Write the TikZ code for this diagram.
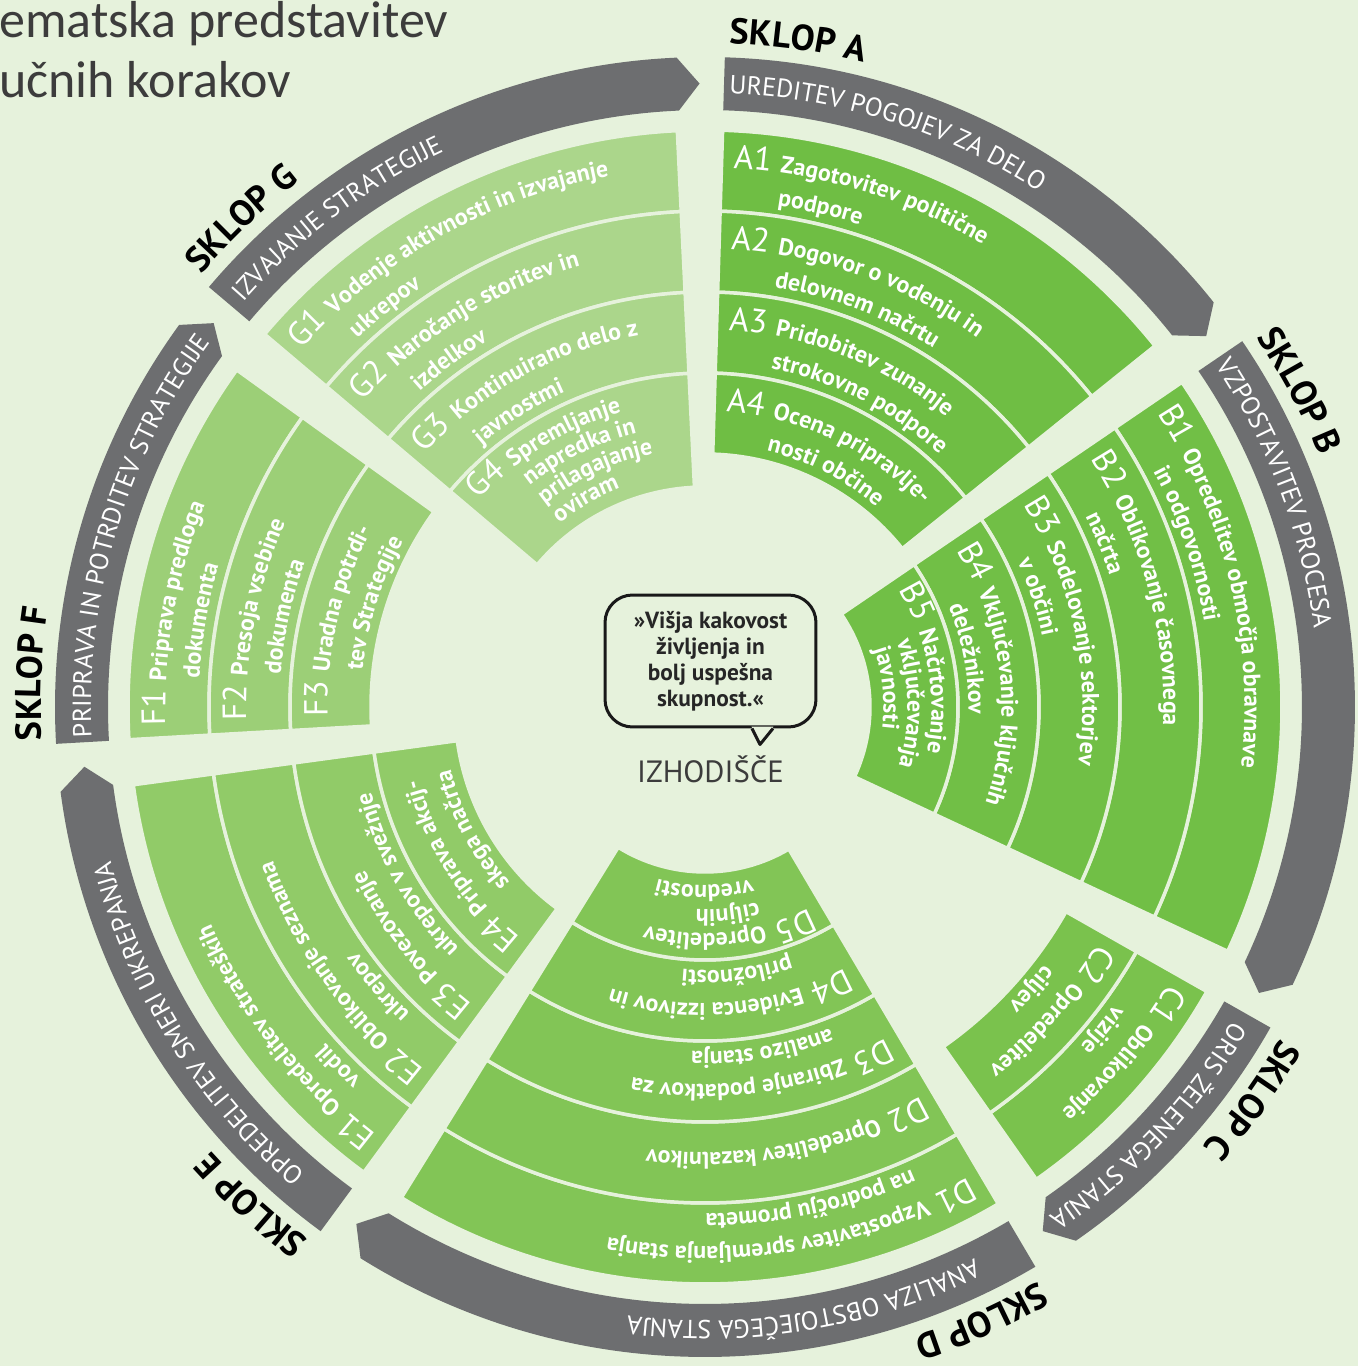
\documentclass[tikz,border=0pt]{standalone}
\usepackage{fontspec}
\setmainfont{PT Sans}
\newfontfamily\titlefont{Carlito}
\usetikzlibrary{decorations.text, calc, positioning}

\definecolor{bgcol}{HTML}{E6F2DC}
\definecolor{ringgrey}{HTML}{6D6E70}
\definecolor{colA}{HTML}{6FBE44}
\definecolor{colB}{HTML}{71BF46}
\definecolor{colC}{HTML}{7AC24D}
\definecolor{colD}{HTML}{82C556}
\definecolor{colE}{HTML}{91CB68}
\definecolor{colF}{HTML}{9CCF77}
\definecolor{colG}{HTML}{ABD68B}
\definecolor{inkgrey}{HTML}{3C3C3C}

\newcommand\labfont{\mdseries\fontsize{19}{20}\selectfont}
\newcommand\itmfont{\bfseries\fontsize{13.6}{15}\selectfont}
\newcommand\ringfont{\fontsize{14.8}{16}\selectfont}
\newcommand\sklopfont{\bfseries\fontsize{20.5}{22}\selectfont}

% text on a clockwise arc: [colour]{radius}{start angle}{text}
\newcommand\arcline[4][white]{%
  \path[decorate, decoration={text along path, text color=#1, text={#4}}]
    (#3:#2) arc[start angle=#3, delta angle=-100, radius=#2];}

% one sklop: start, end, colour, outer/inner radii of the bands
\newcommand\sklopwedge[4]{%
  \foreach \bandout/\bandin in {#4}{%
    \filldraw[band, fill=#3] (#1:\bandout) arc[start angle=#1, end angle=#2, radius=\bandout]
      -- (#2:\bandin) arc[start angle=#2, end angle=#1, radius=\bandin] -- cycle;}}

% grey arrow of the outer ring: start, tip
\newcommand\ringpart[2]{%
  \fill[ringgrey] (#1:650) arc[start angle=#1, end angle=#2+2, radius=650]
    -- (#2:623.5) -- (#2+2:597) arc[start angle=#2+2, end angle=#1, radius=597] -- cycle;}

% step label and first line, then the following lines
\newcommand\itemhead[4]{%
  \pgfmathsetmacro\labang{#1-12/#2*180/pi}%
  \pgfmathsetmacro\txtang{#1-61/#2*180/pi}%
  \arcline{#2}{\labang}{|\labfont|#3 |\itmfont|#4}}
\newcommand\itemline[2]{\arcline{#1}{\txtang}{|\itmfont|#2}}

\begin{document}
\begin{tikzpicture}[x=0.02cm, y=0.02cm,
    band/.style={draw=bgcol, line width=0.07cm},
    title/.style={font=\titlefont\fontsize{29.6}{30}\selectfont, text=inkgrey, inner sep=0, anchor=base west},
    quotebox/.style={draw=black!90, line width=0.06cm, rounded corners=0.55cm,
        minimum width=4.22cm, minimum height=2.64cm, align=center,
        font=\bfseries\fontsize{13.3}{14.8}\selectfont, text=black!85}]
\path[use as bounding box, fill=bgcol] (-705,-659) rectangle (653,707);

\node[title] (titleA) at (-706,669) {ematska predstavitev};
\node[title] (titleB) at (-706,609) {učnih korakov};

% sklopi
\sklopwedge{88.25}{38.75}{colA}{577/496, 496/415, 415/334, 334/253}
\sklopwedge{34.25}{-25.05}{colB}{577/496, 496/415, 415/334, 334/253, 253/165}
\sklopwedge{-29.55}{-54.95}{colC}{577/496, 496/415}
\sklopwedge{-59.45}{-121.75}{colD}{577/496, 496/415, 415/334, 334/253, 253/165}
\sklopwedge{-126.25}{-172.25}{colE}{577/496, 496/415, 415/334, 334/250}
\sklopwedge{-176.75}{-215.75}{colF}{577/496, 496/415, 415/334}
\sklopwedge{-220.25}{-267.25}{colG}{577/496, 496/415, 415/334, 334/220}

% outer ring
\ringpart{88.25}{36.5}
\ringpart{34.25}{-27.3}
\ringpart{-29.55}{-57.2}
\ringpart{-59.45}{-124}
\ringpart{-126.25}{-174.5}
\ringpart{-176.75}{-218}
\ringpart{-220.25}{-269.5}

\arcline{614}{87.75}{|\ringfont|UREDITEV POGOJEV ZA DELO}
\arcline{614}{33.75}{|\ringfont|VZPOSTAVITEV PROCESA}
\arcline{614}{-30.75}{|\ringfont|ORIS ŽELENEGA STANJA}
\arcline{614}{-63.95}{|\ringfont|ANALIZA OBSTOJEČEGA STANJA}
\arcline{614}{-130.55}{|\ringfont|OPREDELITEV SMERI UKREPANJA}
\arcline{614}{-177.15}{|\ringfont|PRIPRAVA IN POTRDITEV STRATEGIJE}
\arcline{614}{-221.25}{|\ringfont|IZVAJANJE STRATEGIJE}

\arcline[black]{664}{87.85}{|\sklopfont|SKLOP A}
\arcline[black]{664}{33.85}{|\sklopfont|SKLOP B}
\arcline[black]{664}{-29.95}{|\sklopfont|SKLOP C}
\arcline[black]{664}{-59.85}{|\sklopfont|SKLOP D}
\arcline[black]{664}{-126.65}{|\sklopfont|SKLOP E}
\arcline[black]{664}{-177.15}{|\sklopfont|SKLOP F}
\arcline[black]{664}{-220.65}{|\sklopfont|SKLOP G}

% A
\itemhead{88.25}{539.5}{A1}{Zagotovitev politične}
\itemline{506.5}{podpore}
\itemhead{88.25}{458.5}{A2}{Dogovor o vodenju in}
\itemline{425.5}{delovnem načrtu}
\itemhead{88.25}{377.5}{A3}{Pridobitev zunanje}
\itemline{344.5}{strokovne podpore}
\itemhead{88.25}{296.5}{A4}{Ocena pripravlje-}
\itemline{263.5}{nosti občine}
% B
\itemhead{34.25}{539.5}{B1}{Opredelitev območja obravnave}
\itemline{506.5}{in odgovornosti}
\itemhead{34.25}{458.5}{B2}{Oblikovanje časovnega}
\itemline{425.5}{načrta}
\itemhead{34.25}{377.5}{B3}{Sodelovanje sektorjev}
\itemline{344.5}{v občini}
\itemhead{34.25}{296.5}{B4}{Vključevanje ključnih}
\itemline{263.5}{deležnikov}
\itemhead{34.25}{226.5}{B5}{Načrtovanje}
\itemline{202.5}{vključevanja}
\itemline{178.5}{javnosti}
% C
\itemhead{-29.55}{539.5}{C1}{Oblikovanje}
\itemline{506.5}{vizije}
\itemhead{-29.55}{458.5}{C2}{Opredelitev}
\itemline{425.5}{ciljev}
% D
\itemhead{-59.45}{539.5}{D1}{Vzpostavitev spremljanja stanja}
\itemline{506.5}{na področju prometa}
\itemhead{-59.45}{445.5}{D2}{Opredelitev kazalnikov}
\itemhead{-59.45}{377.5}{D3}{Zbiranje podatkov za}
\itemline{344.5}{analizo stanja}
\itemhead{-59.45}{296.5}{D4}{Evidenca izzivov in}
\itemline{263.5}{priložnosti}
\itemhead{-59.45}{226.5}{D5}{Opredelitev}
\itemline{202.5}{ciljnih}
\itemline{178.5}{vrednosti}
% E
\itemhead{-126.25}{539.5}{E1}{Opredelitev strateških}
\itemline{506.5}{vodil}
\itemhead{-126.25}{458.5}{E2}{Oblikovanje seznama}
\itemline{425.5}{ukrepov}
\itemhead{-126.25}{377.5}{E3}{Povezovanje}
\itemline{344.5}{ukrepov v svežnje}
\itemhead{-126.25}{295}{E4}{Priprava akcij-}
\itemline{262}{skega načrta}
% F
\itemhead{-176.75}{539.5}{F1}{Priprava predloga}
\itemline{506.5}{dokumenta}
\itemhead{-176.75}{458.5}{F2}{Presoja vsebine}
\itemline{425.5}{dokumenta}
\itemhead{-176.75}{377.5}{F3}{Uradna potrdi-}
\itemline{344.5}{tev Strategije}
% G
\itemhead{-220.25}{539.5}{G1}{Vodenje aktivnosti in izvajanje}
\itemline{506.5}{ukrepov}
\itemhead{-220.25}{458.5}{G2}{Naročanje storitev in}
\itemline{425.5}{izdelkov}
\itemhead{-220.25}{377.5}{G3}{Kontinuirano delo z}
\itemline{344.5}{javnostmi}
\itemhead{-220.25}{306.5}{G4}{Spremljanje}
\itemline{282.5}{napredka in}
\itemline{258.5}{prilagajanje}
\itemline{234.5}{oviram}

% izhodišče
\node[quotebox] (quote) at (5.5,46) {»Višja kakovost\\življenja in\\bolj uspešna\\skupnost.«};
\coordinate (tip) at ($(quote.south)+(49.5,-16)$);
\fill[bgcol] ($(quote.south)+(41,1.8)$) -- (tip) -- ($(quote.south)+(63,1.8)$) -- cycle;
\draw[line width=0.06cm, draw=black!90, line join=round] ($(quote.south)+(41.5,0)$) -- (tip) -- ($(quote.south)+(62.5,0)$);
\node[font=\fontsize{17.5}{18}\selectfont, text=inkgrey] (start) [below=0.42cm of quote] {IZHODIŠČE};
\end{tikzpicture}
\end{document}
